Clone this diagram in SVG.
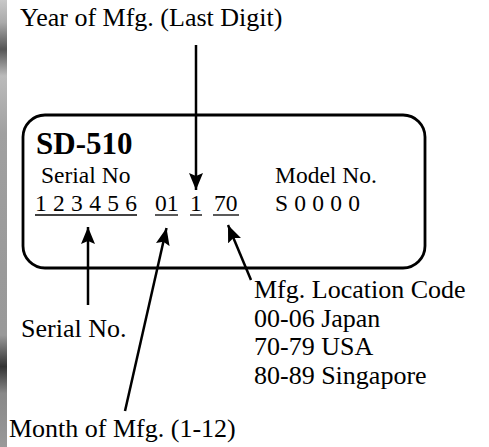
<svg xmlns="http://www.w3.org/2000/svg" width="489" height="447" viewBox="0 0 489 447">
<defs>
<linearGradient id="edge" x1="0" y1="0" x2="0" y2="1">
<stop offset="0" stop-color="#c8c8c8"/>
<stop offset="0.05" stop-color="#aaaaaa"/>
<stop offset="0.11" stop-color="#555555"/>
<stop offset="0.17" stop-color="#bbbbbb"/>
<stop offset="0.3" stop-color="#a0a0a0"/>
<stop offset="0.6" stop-color="#9a9a9a"/>
<stop offset="0.75" stop-color="#999999"/>
<stop offset="0.82" stop-color="#333333"/>
<stop offset="0.88" stop-color="#888888"/>
<stop offset="1" stop-color="#999999"/>
</linearGradient>
<marker id="ah" markerUnits="userSpaceOnUse" markerWidth="18" markerHeight="14" viewBox="0 0 18 14" refX="17" refY="7" orient="auto">
<path d="M0,0 L17,7 L0,14 L3,7 Z" fill="#000"/>
</marker>
<style>
text{font-family:"Liberation Serif","Times New Roman",serif;fill:#000}
.lbl{font-size:26px}
.in{font-size:23.5px}
.b{font-size:31px;font-weight:bold}
.ln{stroke:#000;stroke-width:2.5;fill:none;marker-end:url(#ah)}
.ul{stroke:#000;stroke-width:1.3}
</style>
</defs>
<rect width="489" height="447" fill="#fff"/>
<rect x="0" y="0" width="7" height="447" fill="url(#edge)"/>
<g id="plate">
<rect x="23" y="115" width="402" height="153" rx="22" ry="22" fill="none" stroke="#000" stroke-width="2.8"/>
<text class="b" x="36" y="154">SD-510</text>
<text class="in" x="41" y="183">Serial No</text>
<text class="in" x="275" y="183">Model No.</text>
<text class="in" x="35" y="211" textLength="102" lengthAdjust="spacing">1 2 3 4 5 6</text>
<text class="in" x="155" y="211">01</text>
<text class="in" x="190" y="211">1</text>
<text class="in" x="214" y="211">70</text>
<text class="in" x="275" y="211" textLength="85" lengthAdjust="spacing">S 0 0 0 0</text>
<line class="ul" x1="35" y1="215" x2="137" y2="215"/>
<line class="ul" x1="155" y1="215" x2="178" y2="215"/>
<line class="ul" x1="190" y1="215" x2="202" y2="215"/>
<line class="ul" x1="213" y1="215" x2="239" y2="215"/>
</g>
<g id="year">
<text class="lbl" x="20" y="26">Year of Mfg. (Last Digit)</text>
</g>
<g id="serial">
<text class="lbl" x="21" y="337">Serial No.</text>
</g>
<g id="month">
<text class="lbl" x="9" y="437">Month of Mfg. (1-12)</text>
</g>
<g id="location">
<text class="lbl" x="254" y="298">Mfg. Location Code</text>
<text class="lbl" x="254" y="327">00-06 Japan</text>
<text class="lbl" x="254" y="355">70-79 USA</text>
<text class="lbl" x="254" y="384">80-89 Singapore</text>
</g>
<g id="connectors">
<line class="ln" x1="196" y1="45" x2="196" y2="190"/>
<line class="ln" x1="88" y1="305" x2="88" y2="227"/>
<line class="ln" x1="125" y1="411" x2="166.5" y2="228"/>
<line class="ln" x1="251" y1="280" x2="228" y2="225"/>
</g>
</svg>
